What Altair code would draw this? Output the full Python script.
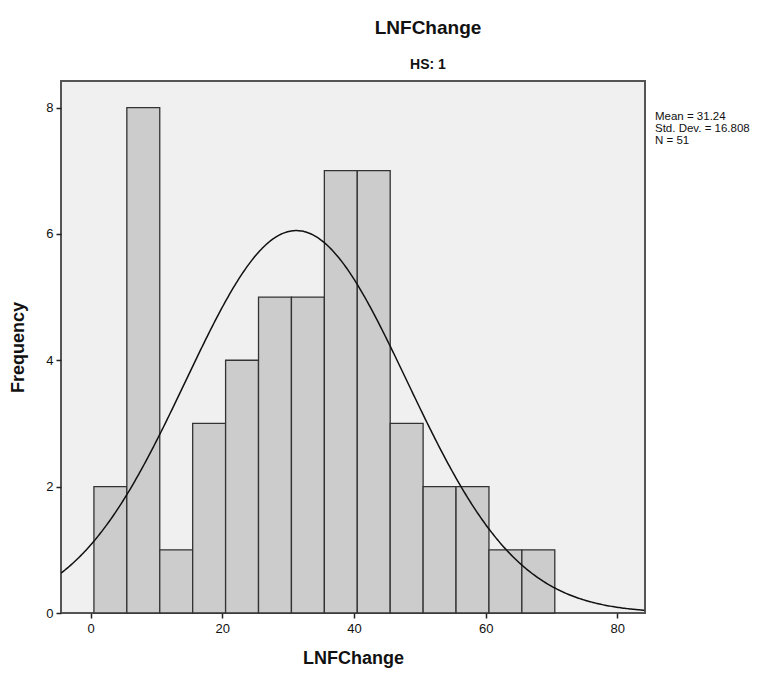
import altair as alt
import pandas as pd

# Histogram of LNFChange for HS = 1 (bins of width 5)
bin_starts = [0.5, 5.5, 10.5, 15.5, 20.5, 25.5, 30.5, 35.5, 40.5, 45.5, 50.5, 55.5, 60.5, 65.5]
counts = [2, 8, 1, 3, 4, 5, 5, 7, 7, 3, 2, 2, 1, 1]
bin_width = 5.0

# Summary statistics shown beside the plot
mean_val = 31.24
std_val = 16.808
n_val = 51
stats_lines = ["Mean = 31.24", "Std. Dev. = 16.808", "N = 51"]

x_ticks = [0, 20, 40, 60, 80]
y_ticks = [0, 2, 4, 6, 8]
x_domain = [-4.5, 84.2]
y_domain = [0, 8.42]

bars = pd.DataFrame({
    "start": bin_starts,
    "end": [s + bin_width for s in bin_starts],
    "count": counts,
})

font = "Liberation Sans"
W, H = 584, 532

x_scale = alt.Scale(domain=x_domain, nice=False, zero=False)
y_scale = alt.Scale(domain=y_domain, nice=False)

x_axis = alt.Axis(
    values=x_ticks, format="d", title="LNFChange", grid=False, domain=False,
    tickColor="#222", tickSize=5, tickWidth=1.5,
    labelFont=font, labelFontSize=13, labelColor="#111", labelPadding=4,
    titleFont=font, titleFontSize=18, titleFontWeight="bold", titleColor="#111",
    titlePadding=14,
)
y_axis = alt.Axis(
    values=y_ticks, format="d", title="Frequency", grid=False, domain=False,
    tickColor="#222", tickSize=5, tickWidth=1.5,
    labelFont=font, labelFontSize=13, labelColor="#111", labelPadding=3,
    titleFont=font, titleFontSize=18, titleFontWeight="bold", titleColor="#111",
    titlePadding=18,
)

hist = alt.Chart(bars).mark_rect(
    fill="#cccccc", stroke="#333333", strokeWidth=1.3
).encode(
    x=alt.X("start:Q", scale=x_scale, axis=x_axis),
    x2="end:Q",
    y=alt.Y("count:Q", scale=y_scale, axis=y_axis),
    y2=alt.datum(0),
)

# Fitted normal curve scaled to counts: N * binwidth * pdf(x)
curve = alt.Chart(
    alt.sequence(start=x_domain[0], stop=x_domain[1] + 0.1, step=0.2, as_="v")
).transform_calculate(
    f=f"{n_val} * {bin_width} / ({std_val} * sqrt(2 * PI)) * exp(-0.5 * pow((datum.v - {mean_val}) / {std_val}, 2))"
).mark_line(color="#111111", strokeWidth=1.5, clip=True).encode(
    x=alt.X("v:Q", scale=x_scale),
    y=alt.Y("f:Q", scale=y_scale),
)

layers = [hist, curve]

# Statistics block, one line per text mark, to the right of the plot
for i, line in enumerate(stats_lines):
    layers.append(
        alt.Chart(pd.DataFrame({"t": [line]})).mark_text(
            align="left", baseline="middle", font=font, fontSize=11.5, color="#111"
        ).encode(x=alt.value(W + 10), y=alt.value(36 + 12 * i), text="t:N")
    )

title = alt.Chart(pd.DataFrame({"t": ["LNFChange"]})).mark_text(
    align="center", baseline="middle", font=font, fontSize=19, fontWeight="bold", color="#111"
).encode(x=alt.value(367), y=alt.value(-53), text="t:N")

subtitle = alt.Chart(pd.DataFrame({"t": ["HS: 1"]})).mark_text(
    align="center", baseline="middle", font=font, fontSize=14, fontWeight="bold", color="#111"
).encode(x=alt.value(367), y=alt.value(-16), text="t:N")

layers += [title, subtitle]

chart = alt.layer(*layers).properties(
    width=W, height=H,
    autosize=alt.AutoSizeParams(type="none"),
    padding={"left": 61, "top": 81, "right": 138, "bottom": 64},
    background="white",
).configure_view(
    fill="#f0f0f0", stroke="#555555", strokeWidth=2
)

chart.save("out.html", embed_options={"renderer": "svg", "actions": False})
